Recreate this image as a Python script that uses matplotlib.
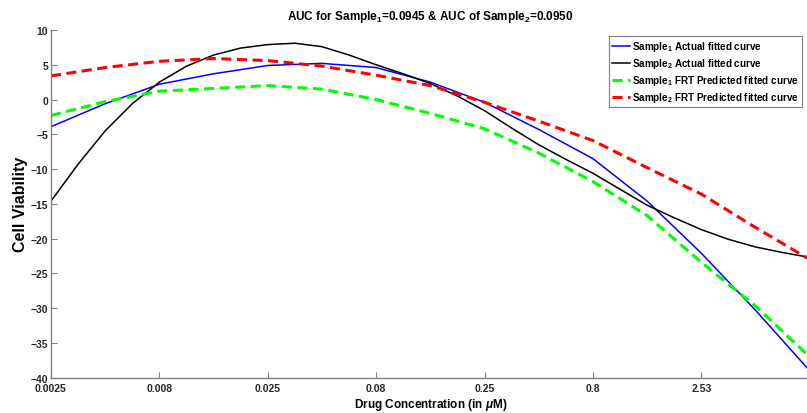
import numpy as np
import matplotlib.pyplot as plt

plt.rcParams.update({'font.family': ['Liberation Sans', 'DejaVu Sans'], 'font.weight': 'bold',
                     'mathtext.fontset': 'custom', 'mathtext.rm': 'Liberation Sans:bold',
                     'mathtext.it': 'Liberation Sans:italic:bold', 'mathtext.bf': 'Liberation Sans:bold'})

# dose levels (index on the sqrt(10) dilution scale)
dose_pos = [0, 0.5, 1, 1.5, 2, 2.5, 3, 3.5, 4, 4.5, 5, 5.5, 6, 6.5, 7]
dose_pos_fine = [0, 0.25, 0.5, 0.75, 1, 1.25, 1.5, 1.75, 2, 2.25, 2.5, 2.75, 3, 3.25, 3.5,
                 3.75, 4, 4.25, 4.5, 4.75, 5, 5.25, 5.5, 5.75, 6, 6.25, 6.5, 6.75, 7]
dose_labels = ['0.0025', '0.008', '0.025', '0.08', '0.25', '0.8', '2.53', '8']

s1_actual = [-3.9, -0.6, 2.2, 3.7, 4.9, 5.2, 4.6, 2.5, -0.4, -4.3, -8.5, -14.6, -22.1, -30.3, -39.0]
s2_actual = [-14.6, -9.3, -4.5, -0.6, 2.5, 4.8, 6.4, 7.4, 7.9, 8.1, 7.6, 6.4, 5.0, 3.7, 2.3,
             0.5, -1.6, -4.1, -6.5, -8.6, -10.6, -12.9, -15.2, -17.0, -18.7, -20.1, -21.2, -22.0, -22.7]
s1_frt = [-2.3, -0.3, 1.2, 1.6, 2.0, 1.5, 0.0, -2.0, -4.2, -7.7, -11.8, -16.7, -23.4, -29.7, -37.0]
s2_frt = [3.4, 4.6, 5.5, 5.9, 5.6, 4.8, 3.5, 2.0, -0.4, -3.1, -5.9, -9.8, -13.6, -18.4, -23.0]

fig = plt.figure(figsize=(8.07, 4.14), dpi=100)
ax = fig.add_axes([51/807, 35.3/414, 758.7/807, 347.7/414])

ax.plot(dose_pos, s1_actual, color='#0000ff', lw=1.1, label='Sample$_1$ Actual fitted curve')
ax.plot(dose_pos_fine, s2_actual, color='black', lw=1.1, label='Sample$_2$ Actual fitted curve')
ax.plot(dose_pos, s1_frt, color='#00ff00', lw=2.2, dashes=(3.3, 1.8), label='Sample$_1$ FRT Predicted fitted curve')
ax.plot(dose_pos, s2_frt, color='#ff0000', lw=2.2, dashes=(3.3, 1.8), label='Sample$_2$ FRT Predicted fitted curve')

ax.set_xlim(0, 7)
ax.set_ylim(-40, 10)
ax.set_xticks(range(len(dose_labels)))
ax.set_xticklabels(dose_labels)
ax.set_yticks(np.arange(-40, 11, 5))
ax.tick_params(direction='in', length=4.5, width=0.8, color='#808080', labelsize=7.5,
               labelcolor='#262626', pad=2)
ax.tick_params(axis='x', pad=4)
for side in ['top', 'right']:
    ax.spines[side].set_visible(False)
for side in ['left', 'bottom']:
    ax.spines[side].set_color('#808080')
    ax.spines[side].set_linewidth(1.0)

ax.set_title('AUC for Sample$_1$=0.0945 & AUC of Sample$_2$=0.0950', fontsize=8.5, fontweight='bold', pad=8)
ax.set_xlabel(r'Drug Concentration (in $\mu$M)', fontsize=8.5, fontweight='bold', labelpad=2)
ax.set_ylabel('Cell Viability', fontsize=11.5, fontweight='bold', labelpad=2)

leg = ax.legend(loc='upper right', bbox_to_anchor=(802/807, 1-37/414), bbox_transform=fig.transFigure,
                fontsize=7.1, handlelength=1.9, handletextpad=0.2, labelspacing=0.32,
                borderpad=0.3, borderaxespad=0, fancybox=False, framealpha=1, edgecolor='#808080')
leg.get_frame().set_linewidth(0.8)

plt.savefig('out.png', dpi=100)
